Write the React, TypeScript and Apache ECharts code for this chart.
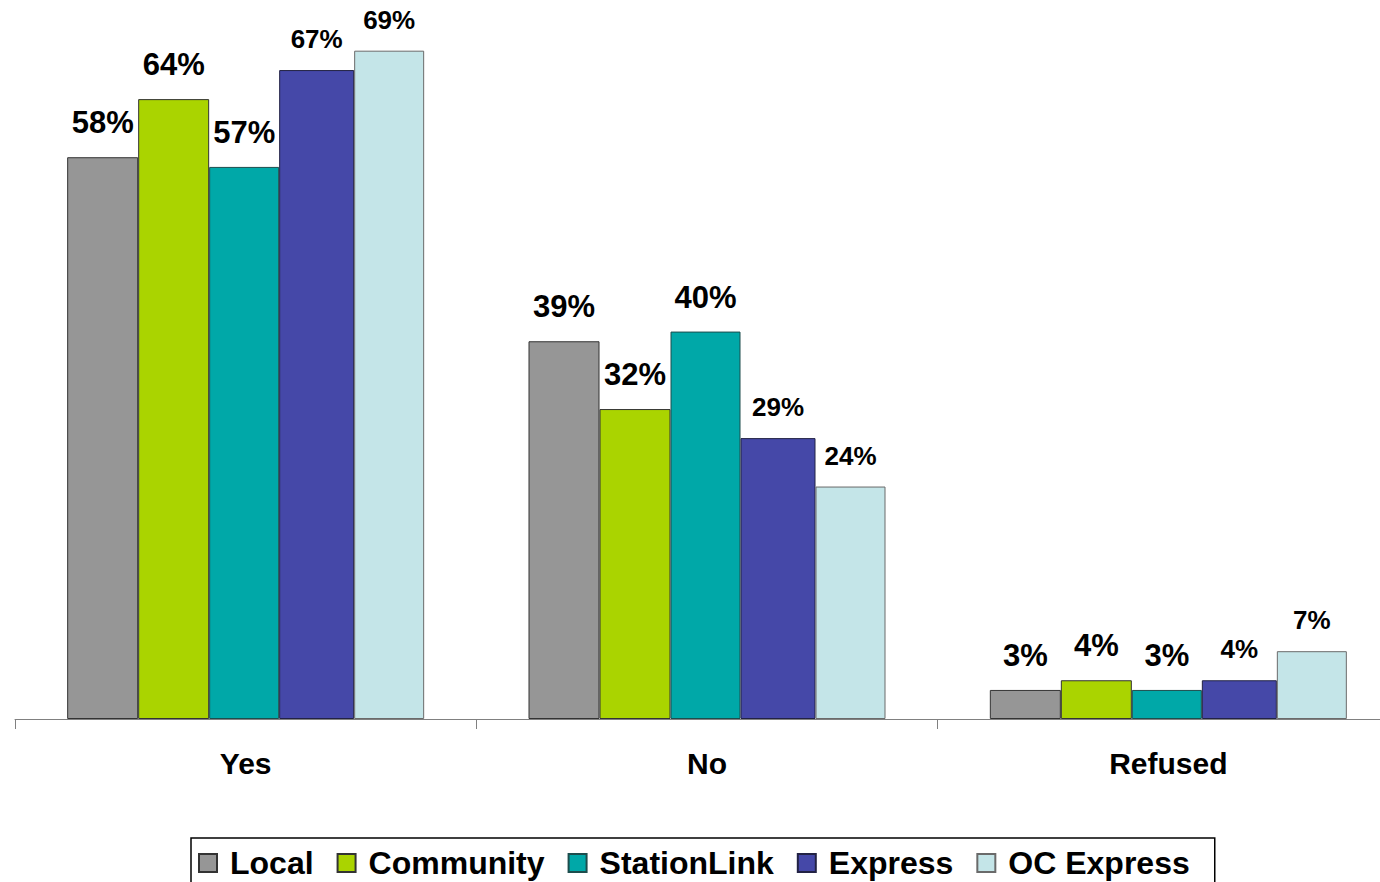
import React, { useEffect, useRef } from "react";
import * as echarts from "echarts";

const categories = ["Yes", "No", "Refused"];
const seriesNames = ["Local", "Community", "StationLink", "Express", "OC Express"];
const local = [58, 39, 3];
const community = [64, 32, 4];
const stationLink = [57, 40, 3];
const express = [67, 29, 4];
const ocExpress = [69, 24, 7];
const seriesValues = [local, community, stationLink, express, ocExpress];

const colors = ["#969696", "#AAD400", "#00A8A8", "#4548A8", "#C4E5E8"];
const borders = ["#333333", "#333333", "#1d4d4d", "#222244", "#6a6a6a"];
const barWidths = [71, 71, 70, 75, 70];
const labelSizes = [31, 31, 31, 26, 26];
const labelDistances = [19, 19, 19, 18, 18];

const FONT = "'Liberation Sans', Arial, Helvetica, sans-serif";

export default function App() {
  const ref = useRef<HTMLDivElement>(null);
  useEffect(() => {
    if (!ref.current) return;
    const chart = echarts.init(ref.current, undefined, { renderer: "svg" });
    chart.setOption({
      animation: false,
      backgroundColor: "#ffffff",
      grid: { left: 15, top: 41, width: 1384, height: 678, containLabel: false },
      xAxis: {
        type: "category",
        data: categories,
        axisLine: { show: true, lineStyle: { color: "#808080", width: 1 } },
        axisTick: { show: true, length: 10, inside: false, lineStyle: { color: "#808080" } },
        axisLabel: {
          margin: 29,
          fontSize: 30,
          fontWeight: "bold",
          color: "#000",
          fontFamily: FONT,
        },
      },
      yAxis: {
        type: "value",
        min: 0,
        max: 70,
        show: false,
        splitLine: { show: false },
      },
      legend: {
        data: seriesNames,
        top: 838,
        left: 191,
        orient: "horizontal",
        icon: "rect",
        itemWidth: 18,
        itemHeight: 18,
        itemGap: 23,
        borderColor: "#000",
        borderWidth: 1.5,
        padding: [9, 25, 30, 7],
        textStyle: {
          fontSize: 32,
          fontWeight: "bold",
          color: "#000",
          fontFamily: FONT,
          padding: [0, 0, 0, 8],
        },
      },
      series: seriesNames.map((name, i) => ({
        name,
        type: "bar",
        data: seriesValues[i],
        barWidth: barWidths[i],
        barGap: "0%",
        barCategoryGap: "22%",
        itemStyle: { color: colors[i], borderColor: borders[i], borderWidth: 1 },
        label: {
          show: true,
          position: "top",
          distance: labelDistances[i],
          formatter: "{c}%",
          fontSize: labelSizes[i],
          fontWeight: "bold",
          color: "#000",
          fontFamily: FONT,
        },
      })),
    });
    return () => chart.dispose();
  }, []);
  return (
    <div
      style={{
        position: "fixed",
        left: 0,
        top: 0,
        width: 1380,
        height: 882,
        overflow: "hidden",
        background: "#fff",
      }}
    >
      <div ref={ref} style={{ width: 1400, height: 882 }} />
    </div>
  );
}
